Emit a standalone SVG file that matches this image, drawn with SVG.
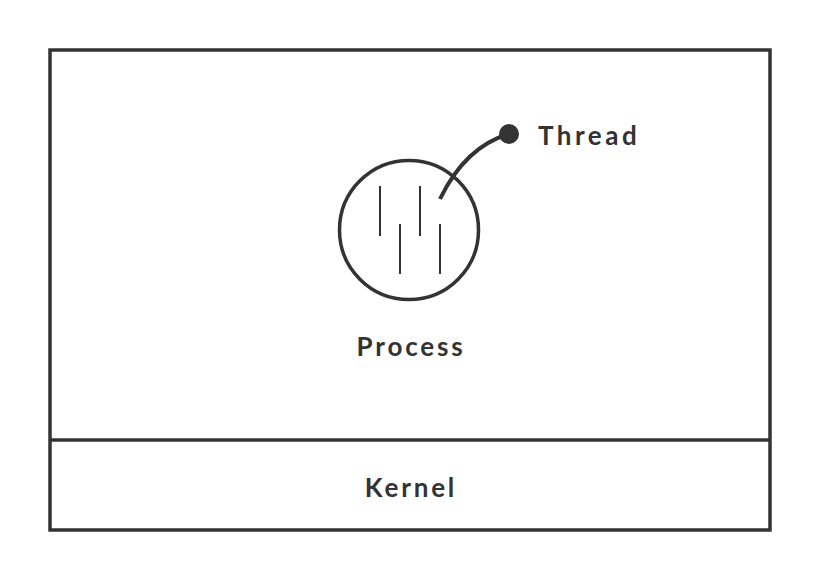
<svg xmlns="http://www.w3.org/2000/svg" width="820" height="580" viewBox="0 0 820 580">
<style>
.frame{fill:none;stroke:#333;stroke-width:3.5}
.ln{stroke:#333;stroke-width:2;fill:none}
.lbl{font-family:Lato,"Noto Sans","Liberation Sans",sans-serif;font-weight:bold;font-size:26px;fill:#333;letter-spacing:2.8px}
</style>
<rect width="820" height="580" fill="#fff"/>
<g id="frame">
<rect class="frame" x="50" y="50" width="720" height="480"/>
</g>
<g id="kernel">
<line class="frame" x1="50" y1="440" x2="770" y2="440"/>
<text class="lbl" x="411" y="497" text-anchor="middle">Kernel</text>
</g>
<g id="process">
<circle cx="409" cy="230" r="69.5" fill="none" stroke="#333" stroke-width="3.5"/>
<line class="ln" x1="380" y1="186" x2="380" y2="236"/>
<line class="ln" x1="420" y1="186" x2="420" y2="236"/>
<line class="ln" x1="400" y1="224" x2="400" y2="274"/>
<line class="ln" x1="440" y1="224" x2="440" y2="274"/>
<text class="lbl" x="411" y="356" text-anchor="middle">Process</text>
</g>
<g id="connectors">
<path d="M440,199 C455,168 478,143 509,134" fill="none" stroke="#333" stroke-width="4"/>
</g>
<g id="thread">
<circle cx="509" cy="134" r="10" fill="#333"/>
<text class="lbl" x="538" y="145" style="letter-spacing:3.5px">Thread</text>
</g>
</svg>
